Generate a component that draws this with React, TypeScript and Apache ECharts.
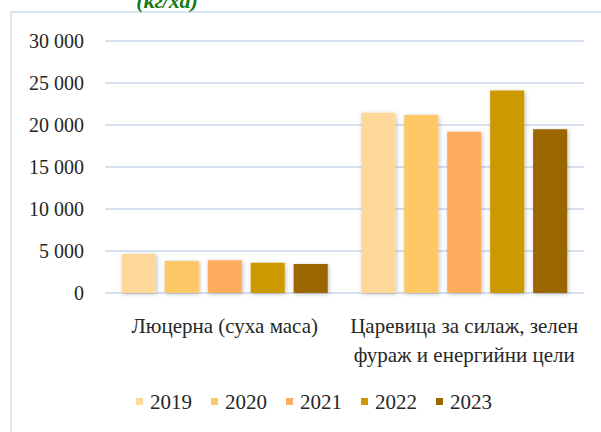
import React, { useEffect, useRef } from "react";
import * as echarts from "echarts";

const categories = ["Люцерна (суха маса)", "Царевица за силаж, зелен\nфураж и енергийни цели"];
const years = ["2019", "2020", "2021", "2022", "2023"];
const values2019 = [4650, 21450];
const values2020 = [3800, 21200];
const values2021 = [3900, 19200];
const values2022 = [3600, 24100];
const values2023 = [3450, 19500];
const yearValues = [values2019, values2020, values2021, values2022, values2023];
const colors = ["#FED898", "#FEC866", "#FEAD5F", "#CC9900", "#996600"];

export default function App() {
  const ref = useRef<HTMLDivElement>(null);
  useEffect(() => {
    if (!ref.current) return;
    const chart = echarts.init(ref.current, null, { renderer: "svg" });
    const font = "Liberation Serif";
    chart.setOption({
      animation: false,
      textStyle: { fontFamily: font },
      graphic: [
        {
          type: "rect",
          shape: { x: 11, y: 12, width: 700, height: 500 },
          style: { fill: "none", stroke: "#DCE6F3", lineWidth: 2 },
          silent: true,
        },
        {
          type: "text",
          x: 167,
          y: -11,
          style: {
            text: "(кг/ха)",
            fill: "#147A14",
            fontFamily: font,
            fontSize: 22,
            fontWeight: "bold",
            fontStyle: "italic",
            textAlign: "center",
            textVerticalAlign: "top",
          },
        },
      ],
      grid: { left: 105, right: 17, top: 41, bottom: 139 },
      legend: {
        bottom: 15,
        left: 131,
        itemWidth: 7,
        itemHeight: 7,
        itemGap: 19,
        icon: "rect",
        textStyle: { fontFamily: font, fontSize: 21, color: "#262626", padding: [0, 0, 0, 2] },
        data: years,
      },
      xAxis: {
        type: "category",
        data: categories,
        axisLine: { show: false },
        axisTick: { show: false },
        axisLabel: { interval: 0, fontFamily: font, fontSize: 21, color: "#262626", margin: 18, lineHeight: 29 },
      },
      yAxis: {
        type: "value",
        min: 0,
        max: 30000,
        interval: 5000,
        axisLine: { show: false },
        axisTick: { show: false },
        splitLine: { lineStyle: { color: "#D5E0F0", width: 2 } },
        axisLabel: {
          fontFamily: font,
          fontSize: 20,
          color: "#262626",
          margin: 21,
          formatter: (v: number) => (v >= 1000 ? `${Math.floor(v / 1000)} ${String(v % 1000).padStart(3, "0")}` : String(v)),
        },
      },
      series: years.map((y, i) => ({
        name: y,
        type: "bar",
        data: yearValues[i],
        barGap: "26%",
        barCategoryGap: "14%",
        itemStyle: {
          color: colors[i],
          shadowColor: "rgba(0,0,0,0.25)",
          shadowBlur: 4,
          shadowOffsetX: 1,
          shadowOffsetY: 1,
        },
      })),
    });
    return () => chart.dispose();
  }, []);
  return <div ref={ref} style={{ position: "fixed", left: 0, top: 0, width: 601, height: 432, background: "#fff" }} />;
}
